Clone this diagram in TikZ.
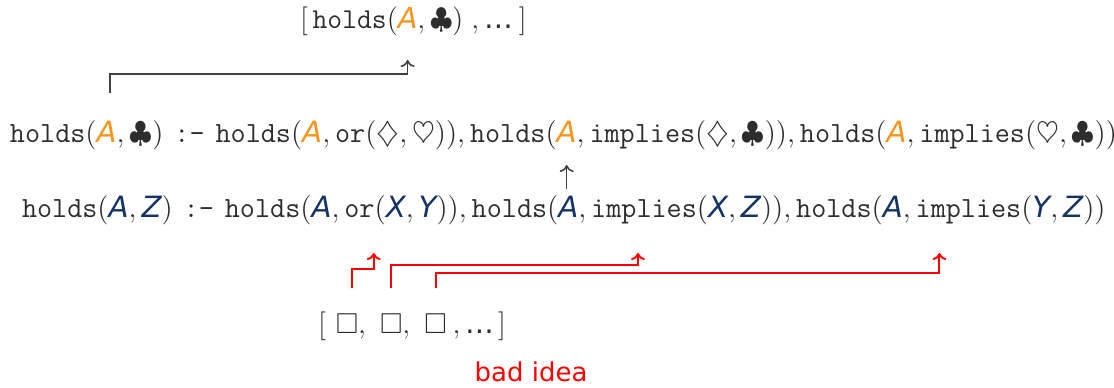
\RequirePackage{fix-cm}
\documentclass[tikz,border=0pt]{standalone}
\usepackage{amssymb}
\usepackage{fontspec}
\setsansfont{DejaVu Sans}
\usetikzlibrary{calc,arrows.meta}
\definecolor{txt}{RGB}{45,45,45}
\definecolor{orng}{RGB}{245,150,30}
\definecolor{navy}{RGB}{20,50,100}
\definecolor{arrowgray}{RGB}{64,64,64}
\newcommand\vv[1]{\textsf{\itshape #1}}
\newcommand\oA{\textcolor{orng}{\vv{A}}}
\newcommand\nv[1]{\textcolor{navy}{\vv{#1}}}
\newcommand\hd{\texttt{holds}}
\newcommand\tto[1]{\texttt{#1}}
\newcommand\dd{\textsf{\ldots}}
\newcommand\nck{\texttt{\hspace{5.5pt}:-\hspace{5.5pt}}}
\begin{document}
\begin{tikzpicture}[x=0.5pt,y=-0.5pt,
  frag/.style={inner sep=0pt, outer sep=0pt, anchor=base west, text=txt,
    font=\fontsize{14.65}{17}\selectfont},
  smallfrag/.style={frag, font=\fontsize{14.4}{17}\selectfont},
  garrow/.style={draw=arrowgray, line width=0.8pt, -{Computer Modern Rightarrow[length=3.5pt,width=7pt]}},
  rarrow/.style={draw=red, line width=1pt, -{Computer Modern Rightarrow[length=3.5pt,width=7pt]}}]
\useasboundingbox (0,0) rectangle (1114,387);
% top list
\node[smallfrag] (t1) at (300,28) {$[\,\hd($};
\node[smallfrag] (tA) at (t1.base east) {$\oA$};
\node[smallfrag] (t2) at (tA.base east) {$,\clubsuit)\;,\dd\hspace{3pt}]$};
% row 1
\node[frag] (r1h) at (10,142) {$\hd(\oA,\clubsuit)$};
\node[frag] (r1a) at (r1h.base east) {$\nck\hd(\oA,\tto{or}(\diamondsuit,\heartsuit)),\hd($};
\node[frag] (r1A) at (r1a.base east) {$\oA$};
\node[frag] (r1b) at (r1A.base east) {$,\tto{implies}(\diamondsuit,\clubsuit)),\hd(\oA,\tto{implies}(\heartsuit,\clubsuit))$};
% row 2
\node[frag] (r2a) at (22,217) {$\hd(\nv{A},\nv{Z})\nck\hd(\nv{A},\tto{or}($};
\node[frag] (r2X) at (r2a.base east) {$\nv{X}$};
\node[frag] (r2b) at (r2X.base east) {$,\nv{Y})),\hd(\nv{A},\tto{implies}($};
\node[frag] (r2X2) at (r2b.base east) {$\nv{X}$};
\node[frag] (r2c) at (r2X2.base east) {$,\nv{Z})),\hd(\nv{A},\tto{implies}($};
\node[frag] (r2Y) at (r2c.base east) {$\nv{Y}$};
\node[frag] (r2d) at (r2Y.base east) {$,\nv{Z}))$};
% bottom list
\node[smallfrag] (l0) at (318,333) {$[\hspace{5pt}$};
\node[smallfrag] (b1) at (l0.base east) {$\square$};
\node[smallfrag] (c1) at (b1.base east) {$,\hspace{7pt}$};
\node[smallfrag] (b2) at (c1.base east) {$\square$};
\node[smallfrag] (c2) at (b2.base east) {$,\hspace{7pt}$};
\node[smallfrag] (b3) at (c2.base east) {$\square$};
\node[smallfrag] (l1) at (b3.base east) {$\hspace{3pt},\dd\hspace{2pt}]$};
% bad idea
\node[frag, anchor=base, text=red, font=\sffamily\fontsize{13}{15}\selectfont] (bad) at (531,381) {bad idea};
% gray arrows
\coordinate (g1) at ($(r1h.north west)!0.65!(r1h.north east)+(0,-27)$);
\draw[garrow] (g1) -- ++(0,-19) -| ($(tA.south)+(0,32)$);
\draw[garrow] ($(r1A.south)+(0,47)$) -- ($(r1A.south)+(0,23)$);
% red arrows
\draw[rarrow] ($(b1.north)+(5,-26)$) -- ++(0,-19) -| ($(r2X.south west)+(-12,36)$);
\draw[rarrow] ($(b2.north)+(0,-26)$) -- ++(0,-23) -| ($(r2X2.south west)+(-70,36)$);
\draw[rarrow] ($(b3.north)+(0,-26)$) -- ++(0,-15) -| ($(r2Y.south west)+(-93,36)$);
\end{tikzpicture}
\end{document}
